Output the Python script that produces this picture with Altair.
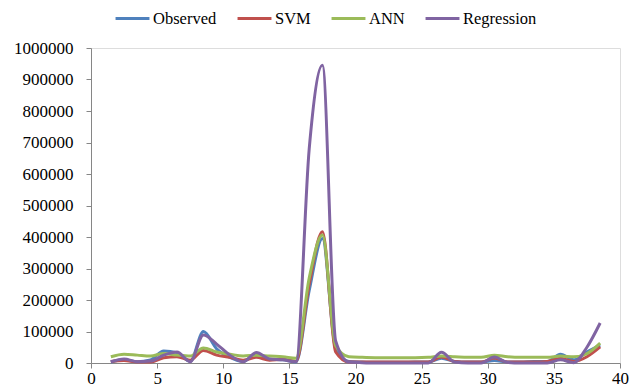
import altair as alt
import pandas as pd

x_vals = [1.5, 2.5, 3.5, 4.5, 5.5, 6.5, 7.5, 8.5, 9.5, 10.5, 11.5, 12.5, 13.5, 14.5, 15.5,
          16.5, 17.5, 18.5, 19.5, 20.5, 21.5, 22.5, 23.5, 24.5, 25.5, 26.5, 27.5, 28.5,
          29.5, 30.5, 31.5, 32.5, 33.5, 34.5, 35.5, 36.5, 37.5, 38.5]

observed = [3000, 10000, 4000, 10000, 38000, 33000, 5000, 100000, 45000, 18000, 5000, 28000,
            12000, 10000, 3000, 230000, 395000, 45000, 5000, 3000, 2000, 2000, 2000, 3000,
            3000, 15000, 5000, 3000, 3000, 8000, 3000, 3000, 5000, 5000, 28000, 10000, 35000, 57000]
svm = [5000, 8000, 3000, 3000, 17000, 20000, 9000, 40000, 25000, 18000, 9000, 18000, 9000,
       12000, 5000, 250000, 417000, 35000, 3000, 3000, 3000, 3000, 3000, 3000, 3000, 19000,
       5000, 3000, 3000, 16000, 3000, 3000, 3000, 5000, 15000, 5000, 20000, 51000]
ann = [20000, 28000, 25000, 22000, 30000, 25000, 22000, 48000, 35000, 28000, 22000, 25000,
       22000, 20000, 15000, 270000, 406000, 55000, 20000, 18000, 17000, 17000, 17000, 17000,
       18000, 22000, 20000, 18000, 18000, 25000, 20000, 18000, 18000, 18000, 22000, 20000,
       30000, 63000]
regression = [4000, 13000, 4000, 6000, 25000, 35000, 4000, 89000, 60000, 25000, 4000, 33000,
              13000, 10000, 4000, 680000, 945000, 70000, 3000, 1000, 0, 0, 0, 0, 0, 34000,
              3000, 0, 0, 19000, 2000, 0, 0, 0, 10000, 1000, 50000, 127000]

series_names = ["Observed", "SVM", "ANN", "Regression"]
series_colors = ["#4F81BD", "#C0504D", "#9BBB59", "#8064A2"]

rows = []
for name, vals in zip(series_names, [observed, svm, ann, regression]):
    for xv, yv in zip(x_vals, vals):
        rows.append({"x": xv, "value": yv, "series": name, "order": series_names.index(name)})
df = pd.DataFrame(rows)

font = "Liberation Serif"

chart = alt.Chart(df).mark_line(
    interpolate="monotone", strokeWidth=3
).encode(
    x=alt.X("x:Q", scale=alt.Scale(domain=[0, 40], nice=False, zero=False),
            axis=alt.Axis(values=[0, 5, 10, 15, 20, 25, 30, 35, 40], title=None,
                          grid=False, tickSize=5, labelPadding=2, labelFlush=False)),
    y=alt.Y("value:Q", scale=alt.Scale(domain=[0, 1000000], nice=False),
            axis=alt.Axis(values=list(range(0, 1000001, 100000)), title=None, grid=False,
                          format="d", tickSize=5, labelPadding=13)),
    color=alt.Color("series:N",
                    scale=alt.Scale(domain=series_names, range=series_colors),
                    legend=alt.Legend(orient="none", legendX=23, legendY=-48,
                                      direction="horizontal", title=None,
                                      symbolType="stroke", symbolSize=1150,
                                      symbolStrokeWidth=3,
                                      columnPadding=14, labelOffset=2)),
    order=alt.Order("order:Q"),
).properties(
    width=529, height=315,
    autosize=alt.AutoSizeParams(type="none"),
    padding={"left": 91, "top": 48, "right": 12, "bottom": 26},
).configure_view(stroke=None).configure(font=font).configure_axis(
    labelFont=font, labelFontSize=17, labelColor="black",
    domainColor="#868686", tickColor="#868686"
).configure_legend(labelFont=font, labelFontSize=16.5, labelColor="black")

chart.save("out.html", embed_options={"renderer": "svg", "actions": False})
